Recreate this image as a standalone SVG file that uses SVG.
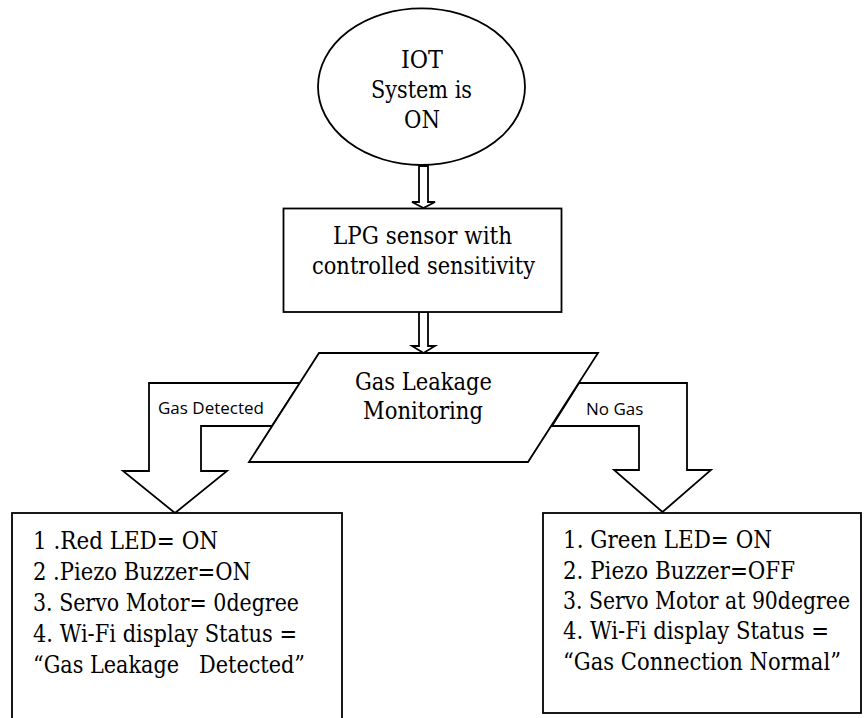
<svg xmlns="http://www.w3.org/2000/svg" width="867" height="718" viewBox="0 0 867 718">
  <style>
    .shape { fill: #ffffff; stroke: #000000; stroke-width: 1.8; stroke-linejoin: miter; }
    .label { font-family: "Open Sans", "Noto Sans", sans-serif; font-size: 17px; fill: #000000; }
    .body { font-family: "DejaVu Serif", "Liberation Serif", serif; font-size: 24px; fill: #000000; }
  </style>
  <rect width="867" height="718" fill="#ffffff"/>

  <!-- block arrows between the steps -->
  <g id="connectors">
    <polygon class="shape" points="419,166 428,166 428,202 435,202 423.5,208 412,202 419,202"/>
    <polygon class="shape" points="419,312 428,312 428,346 435,346 423.5,353 412,346 419,346"/>
    <polygon class="shape" points="300,383 149,383 149,471 123,471 175,513 227,471 201,471 201,426 272,426"/>
    <polygon class="shape" points="579,383 687,383 687,470 711,470 662.5,512 614,470 639,470 639,426 552,426"/>
    <text class="label" x="158" y="414">Gas Detected</text>
    <text class="label" x="586" y="415">No Gas</text>
  </g>

  <g class="body">
    <g id="start">
      <ellipse class="shape" cx="421.5" cy="86.7" rx="103.5" ry="78.3"/>
      <text x="401" y="68" textLength="42" lengthAdjust="spacingAndGlyphs">IOT</text>
      <text x="371" y="98" textLength="101" lengthAdjust="spacingAndGlyphs">System is</text>
      <text x="404" y="128" textLength="36" lengthAdjust="spacingAndGlyphs">ON</text>
    </g>

    <g id="sensor">
      <rect class="shape" x="283.5" y="208.5" width="278" height="103.5"/>
      <text x="333" y="244" textLength="179" lengthAdjust="spacingAndGlyphs">LPG sensor with</text>
      <text x="312" y="274" textLength="223" lengthAdjust="spacingAndGlyphs">controlled sensitivity</text>
    </g>

    <g id="monitoring">
      <polygon class="shape" points="319,353 598,353 528,462 249,462"/>
      <text x="355" y="390" textLength="137" lengthAdjust="spacingAndGlyphs">Gas Leakage</text>
      <text x="363" y="419" textLength="120" lengthAdjust="spacingAndGlyphs">Monitoring</text>
    </g>

    <g id="gas-detected">
      <rect class="shape" x="12" y="513" width="330" height="215"/>
      <text x="33" y="549" textLength="185" lengthAdjust="spacingAndGlyphs">1 .Red LED= ON</text>
      <text x="33" y="580" textLength="218" lengthAdjust="spacingAndGlyphs">2 .Piezo Buzzer=ON</text>
      <text x="33" y="611" textLength="266" lengthAdjust="spacingAndGlyphs">3. Servo Motor= 0degree</text>
      <text x="33" y="642" textLength="264" lengthAdjust="spacingAndGlyphs">4. Wi-Fi display Status =</text>
      <text x="33" y="673" textLength="272" lengthAdjust="spacingAndGlyphs" xml:space="preserve">“Gas Leakage   Detected”</text>
    </g>

    <g id="no-gas">
      <rect class="shape" x="543" y="513" width="318" height="200"/>
      <text x="563" y="548" textLength="209" lengthAdjust="spacingAndGlyphs">1. Green LED= ON</text>
      <text x="563" y="579" textLength="232" lengthAdjust="spacingAndGlyphs">2. Piezo Buzzer=OFF</text>
      <text x="563" y="609" textLength="287" lengthAdjust="spacingAndGlyphs">3. Servo Motor at 90degree</text>
      <text x="563" y="639" textLength="266" lengthAdjust="spacingAndGlyphs">4. Wi-Fi display Status =</text>
      <text x="563" y="670" textLength="278" lengthAdjust="spacingAndGlyphs">“Gas Connection Normal”</text>
    </g>
  </g>
</svg>
